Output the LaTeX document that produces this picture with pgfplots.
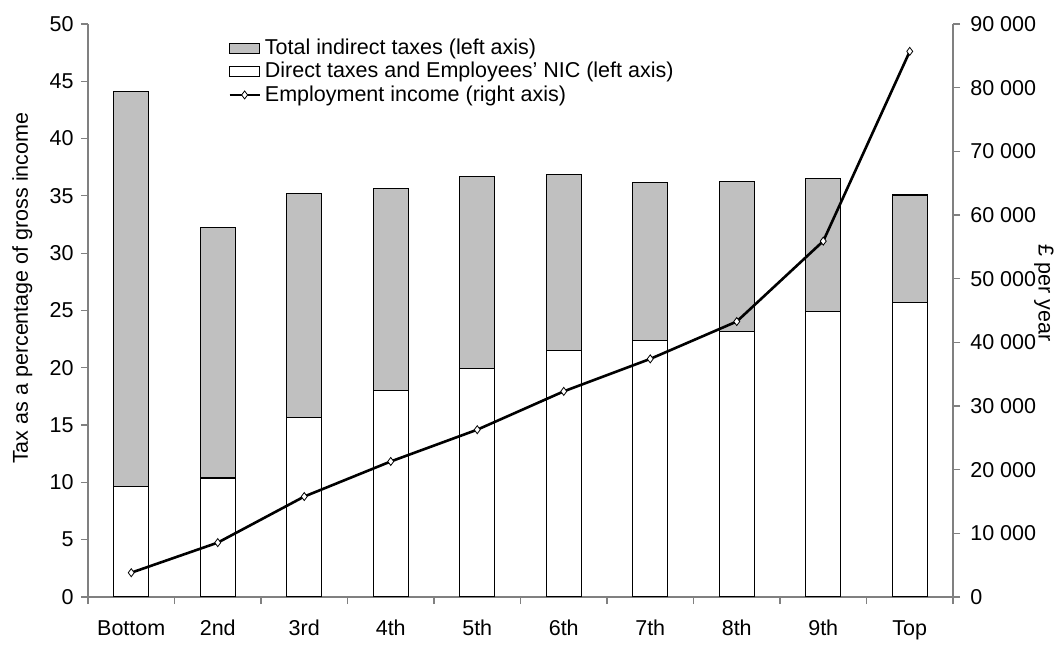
\documentclass[border=0pt]{standalone}
\usepackage{fontspec}
\setmainfont{Liberation Sans}
\usepackage{pgfplots}
\pgfplotsset{compat=1.18}
\definecolor{axgray}{RGB}{128,128,128}
\definecolor{bargray}{RGB}{192,192,192}
\pgfplotsset{
  linelegend/.style={legend image code/.code={\draw[mark repeat=2,mark phase=2,##1] plot coordinates {(0pt,0pt) (15pt,0pt) (30pt,0pt)};}},
  greylegend/.style={legend image code/.code={\draw[fill=bargray,draw=black,line width=0.9pt] (0pt,-5pt) rectangle (30pt,5pt);}},
  whitelegend/.style={legend image code/.code={\draw[fill=white,draw=black,line width=0.9pt] (0pt,-5pt) rectangle (30pt,5pt);}},
}
\begin{document}
\fontsize{21.5}{24}\selectfont
\begin{tikzpicture}
\pgfplotsset{
  common/.style={
    at={(0pt,0pt)}, anchor=south west, scale only axis,
    width=865pt, height=573pt,
    xmin=-0.5, xmax=9.5,
    /pgf/number format/assume math mode=true,
    tick align=outside, major tick length=7pt,
    tick style={axgray, line width=1.2pt},
    axis line style={axgray, line width=1.2pt},
    scaled y ticks=false,
  }
}
\begin{axis}[common,
  axis x line*=bottom, axis y line*=left,
  ymin=0, ymax=50, ytick={0,5,...,50},
  xtick={-0.5,0.5,...,9.5}, xticklabels={},
  extra x ticks={0,1,2,3,4,5,6,7,8,9},
  extra x tick labels={Bottom,2nd,3rd,4th,5th,6th,7th,8th,9th,Top},
  extra x tick style={major tick length=0pt, xticklabel style={yshift=-16pt}},
  ybar stacked, bar width=0.405,
  ylabel={Tax as a percentage of gross income},
  ylabel style={at={(axis description cs:-0.076,0.539)}, anchor=center},
]
\addplot[fill=white, draw=black, line width=1.1pt] coordinates {
(0,9.64) (1,10.38) (2,15.67) (3,18.03) (4,19.9) (5,21.5) (6,22.35) (7,23.16) (8,24.88) (9,25.7)};
\addplot[fill=bargray, draw=black, line width=1.1pt] coordinates {
(0,34.48) (1,21.88) (2,19.53) (3,17.63) (4,16.79) (5,15.39) (6,13.81) (7,13.09) (8,11.66) (9,9.38)};
\end{axis}
\begin{axis}[common,
  axis x line=none, axis y line*=right,
  ymin=0, ymax=90000, ytick={0,10000,...,90000},
  /pgf/number format/1000 sep={\ },
  yticklabel style={anchor=west, xshift=3pt},
  ylabel={£ per year},
  ylabel style={at={(axis description cs:1.105,0.53)}, anchor=center, rotate=180},
  legend style={at={(axis description cs:0.162,0.976)}, anchor=north west,
    draw=none, fill=none, inner sep=0pt, row sep=2.5pt,
    nodes={inner xsep=4pt, inner ysep=1pt}, cells={anchor=west}},
]
\addlegendimage{greylegend}
\addlegendentry{Total indirect taxes (left axis)}
\addlegendimage{whitelegend}
\addlegendentry{Direct taxes and Employees' NIC (left axis)}
\addplot[black, line width=2.6pt, mark=diamond*, mark size=4pt,
  mark options={fill=white, draw=black, line width=0.8pt, solid}, linelegend]
coordinates {(0,3820) (1,8540) (2,15780) (3,21290) (4,26280) (5,32300) (6,37400) (7,43270) (8,55900) (9,85700)};
\addlegendentry{Employment income (right axis)}
\end{axis}
\path (-88pt,-40pt) rectangle (973pt,597pt);
\end{tikzpicture}
\end{document}
